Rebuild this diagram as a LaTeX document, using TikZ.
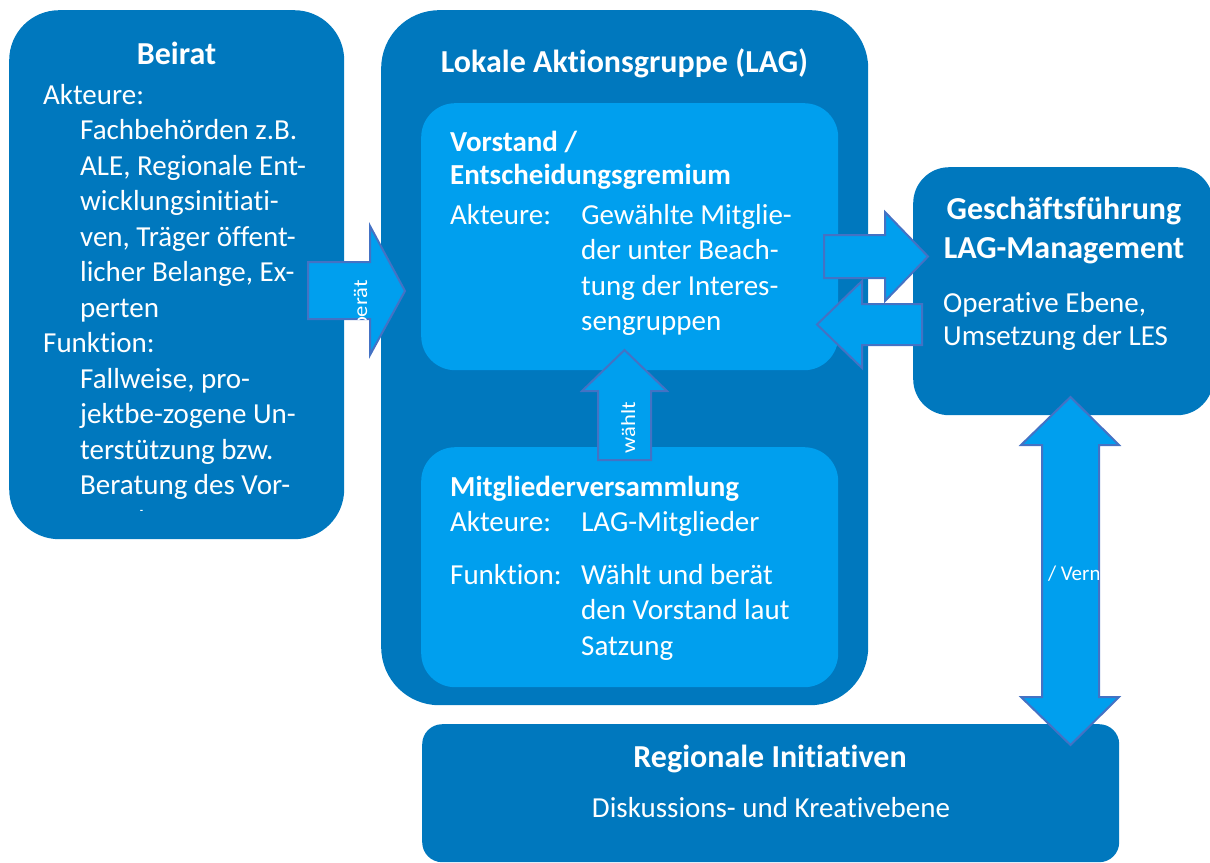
\documentclass[tikz,border=0pt]{standalone}
\usepackage{fontspec}
\usepackage{graphicx}
\setmainfont{Carlito}[Ligatures={NoCommon}]
\definecolor{dblue}{RGB}{0,120,190}
\definecolor{lblue}{RGB}{0,159,238}
\definecolor{aborder}{RGB}{68,114,196}
\begin{document}
\begin{tikzpicture}[x=1pt,y=-1pt,
  box/.style={fill=dblue, draw=none, inner sep=0, anchor=north west},
  ibox/.style={fill=lblue, draw=none, inner sep=0, anchor=north west},
  blockarrow/.style={fill=lblue, draw=aborder, line width=2pt, line join=miter},
  txt/.style={text=white, inner sep=0, font=\fontsize{29}{35.5}\selectfont},
  btxt/.style={text=white, inner sep=0, font=\bfseries\fontsize{29}{35.5}\selectfont},
  ttxt/.style={text=white, inner sep=0, font=\bfseries\fontsize{32}{38}\selectfont},
  atxt/.style={text=white, inner sep=0, font=\fontsize{20}{24}\selectfont}]
\useasboundingbox (0,0) rectangle (1210,862);

% boxes
\node[box, rounded corners=50pt, minimum width=335pt, minimum height=529pt] (beirat) at (9,10) {};
\node[box, rounded corners=58pt, minimum width=487pt, minimum height=695pt] (lag) at (381,10) {};
\node[ibox, rounded corners=34pt, minimum width=417pt, minimum height=267pt] (vorstand) at (421,103) {};
\node[ibox, rounded corners=34pt, minimum width=417pt, minimum height=240pt] (mv) at (421,447) {};
\node[box, rounded corners=36pt, minimum width=300pt, minimum height=248pt] (gf) at (913,167) {};
\node[box, rounded corners=20pt, minimum width=697pt, minimum height=138pt] (ri) at (422,724) {};

% Beirat text
\node[ttxt, anchor=base] (beirattitle) at (176.5,64) {Beirat};
\begin{scope}
\clip (9,10) rectangle (344,510);
\node[txt, anchor=base west] (beirattext) at (43,104) {\parbox[t]{300pt}{\raggedright
Akteure:\\
\hspace*{37pt}Fachbehörden z.B.\\
\hspace*{37pt}ALE, Regionale Ent-\\
\hspace*{37pt}wicklungsinitiati-\\
\hspace*{37pt}ven, Träger öffent-\\
\hspace*{37pt}licher Belange, Ex-\\
\hspace*{37pt}perten\\
Funktion:\\
\hspace*{37pt}Fallweise, pro-\\
\hspace*{37pt}jektbe-zogene Un-\\
\hspace*{37pt}terstützung bzw.\\
\hspace*{37pt}Beratung des Vor-\\
\hspace*{37pt}stands}};
\end{scope}

% LAG text
\node[ttxt, anchor=base] (lagtitle) at (624.5,72) {Lokale Aktionsgruppe (LAG)};
\node[btxt, anchor=base west] (vtitle) at (450,151) {\parbox[t]{360pt}{\fontsize{29}{33}\selectfont\raggedright Vorstand /\\ Entscheidungsgremium}};
\node[txt, anchor=base west] (vbody) at (450,224) {\parbox[t]{380pt}{\raggedright
\makebox[131pt][l]{Akteure:}Gewählte Mitglie-\\
\hspace*{131pt}der unter Beach-\\
\hspace*{131pt}tung der Interes-\\
\hspace*{131pt}sengruppen}};
\node[btxt, anchor=base west] (mvtitle) at (450,496) {Mitgliederversammlung};
\node[txt, anchor=base west] (mvbody) at (450,531) {\parbox[t]{380pt}{\raggedright
\makebox[131pt][l]{Akteure:}LAG-Mitglieder\\[17.5pt]
\makebox[131pt][l]{Funktion:}Wählt und berät\\
\hspace*{131pt}den Vorstand laut\\
\hspace*{131pt}Satzung}};

% Geschaeftsfuehrung
\node[ttxt, anchor=base] (gft1) at (1064,219) {Geschäftsführung};
\node[ttxt, anchor=base] (gft2) at (1064,258) {LAG-Management};
\node[txt, anchor=base west] (gfb1) at (943,312) {Operative Ebene,};
\node[txt, anchor=base west] (gfb2) at (943,345) {Umsetzung der LES};

% Regionale Initiativen
\node[ttxt, anchor=base] (rit) at (770,767) {Regionale Initiativen};
\node[txt, anchor=base] (rib) at (771,817) {Diskussions- und Kreativebene};

% block arrows
\draw[blockarrow] (308,262) -- (370,262) -- (370,226) -- (405,291) -- (370,355) -- (370,319) -- (308,319) -- cycle;
\begin{scope}
\clip (308,262) -- (370,262) -- (370,226) -- (405,291) -- (370,355) -- (370,319) -- (308,319) -- cycle;
\node[atxt, rotate=90, anchor=base east] (beraettxt) at (367,280) {\scalebox{1.13}[1]{berät}};
\end{scope}

\draw[blockarrow] (598,460) -- (598,391) -- (582,391) -- (624.5,350) -- (667,391) -- (651,391) -- (651,460) -- cycle;
\node[atxt, rotate=90, anchor=base east] (waehlttxt) at (635,402) {\scalebox{1.13}[1]{wählt}};

\draw[blockarrow] (824,235) -- (885,235) -- (885,212) -- (928,256.5) -- (885,301) -- (885,278) -- (824,278) -- cycle;
\draw[blockarrow] (922,304) -- (862,304) -- (862,281) -- (817,324.5) -- (862,368) -- (862,345) -- (922,345) -- cycle;

\draw[blockarrow] (1042,445) -- (1021,445) -- (1070.5,397) -- (1119,445) -- (1099,445) -- (1099,697) -- (1119,697) -- (1070.5,745) -- (1021,697) -- (1042,697) -- cycle;
\begin{scope}
\clip (1043,445) rectangle (1098,697);
\node[atxt, font=\fontsize{21}{25}\selectfont, anchor=base] (verntxt) at (1048,580) {\llap{Kontakt }\rlap{/ Vernetzung}};
\end{scope}
\end{tikzpicture}
\end{document}
